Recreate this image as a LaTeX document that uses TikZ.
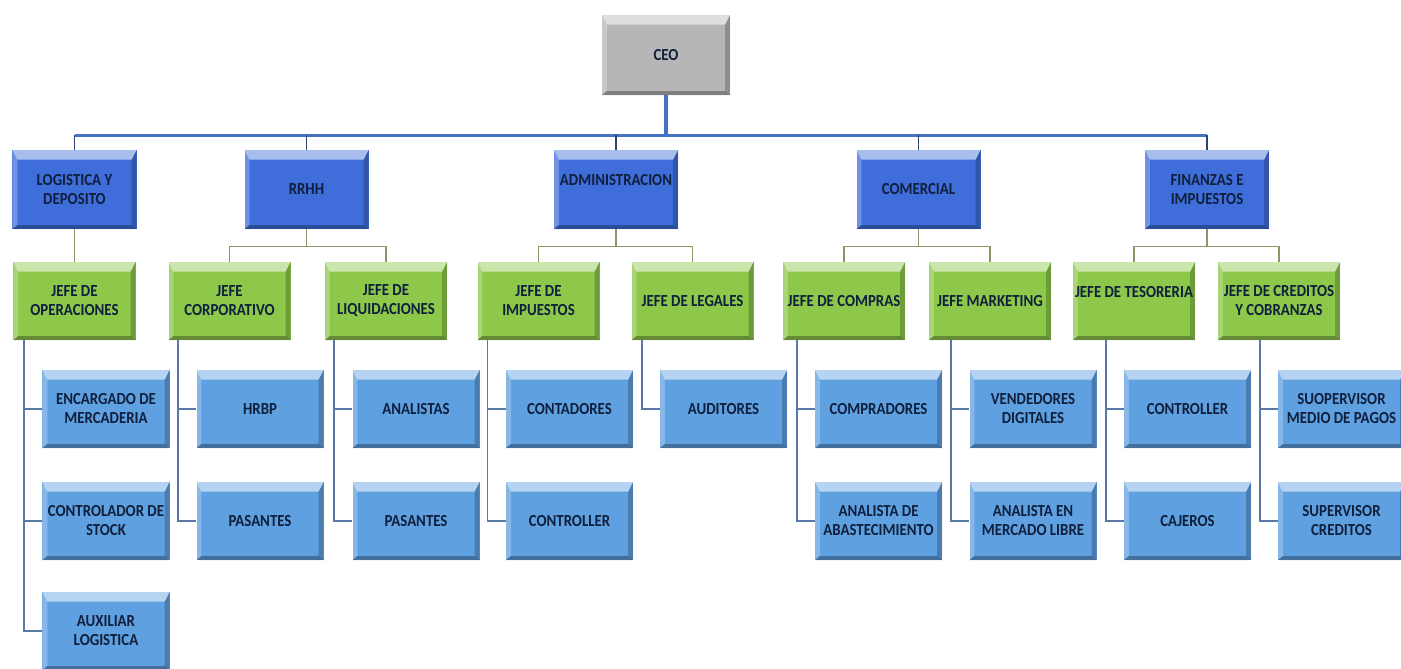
\documentclass[tikz,border=0pt]{standalone}
\usepackage{fontspec}
\setmainfont{Carlito}[FakeStretch=0.88]
\usepackage{tikz}
\definecolor{ceogray}{HTML}{B6B6B6}
\definecolor{areablue}{HTML}{3F6EDB}
\definecolor{jefegreen}{HTML}{8DC84A}
\definecolor{staffblue}{HTML}{5FA0E0}
\definecolor{txtnavy}{HTML}{0F1F3C}
\definecolor{buscol}{HTML}{4472C4}
\definecolor{brkcol}{HTML}{8A9868}
\definecolor{spinecol}{HTML}{5878A8}
\tikzset{
  bevel/.style={path picture={
    \fill[white,opacity=.55] (path picture bounding box.north west) -- (path picture bounding box.north east) -- ([shift={(-1.2mm,-2.4mm)}]path picture bounding box.north east) -- ([shift={(1.2mm,-2.4mm)}]path picture bounding box.north west) -- cycle;
    \fill[white,opacity=.25] (path picture bounding box.north west) -- ([shift={(1.2mm,-2.4mm)}]path picture bounding box.north west) -- ([shift={(1.2mm,1mm)}]path picture bounding box.south west) -- (path picture bounding box.south west) -- cycle;
    \fill[black,opacity=.22] (path picture bounding box.north east) -- (path picture bounding box.south east) -- ([shift={(-1.2mm,1mm)}]path picture bounding box.south east) -- ([shift={(-1.2mm,-2.4mm)}]path picture bounding box.north east) -- cycle;
    \fill[black,opacity=.3] (path picture bounding box.south west) -- ([shift={(1.2mm,1mm)}]path picture bounding box.south west) -- ([shift={(-1.2mm,1mm)}]path picture bounding box.south east) -- (path picture bounding box.south east) -- cycle;
  }},
  box/.style={rectangle,bevel,text=txtnavy,align=center,inner sep=1pt,font=\bfseries\fontsize{12}{13.5}\selectfont},
  ceobox/.style={box,fill=ceogray,minimum width=32mm,minimum height=20mm},
  areabox/.style={box,fill=areablue,minimum width=31mm,minimum height=19.75mm},
  jefebox/.style={box,fill=jefegreen,minimum width=30.5mm,minimum height=19.5mm},
  staffbox/.style={box,fill=staffblue,minimum width=31.75mm,minimum height=19.5mm},
  busline/.style={draw=buscol,line width=2.2pt},
  dropline/.style={draw=buscol!60!black,line width=.8pt},
  brkline/.style={draw=brkcol,line width=1.1pt},
  spine/.style={draw=spinecol,line width=1.1pt}
}
\begin{document}
\begin{tikzpicture}[x=.25mm,y=-.25mm]
\useasboundingbox (0,0) rectangle (1401,668);
\clip (0,0) rectangle (1401,668);
\fill[white] (0,0) rectangle (1401,668);
\node[ceobox] (ceo) at (666,55) {CEO};
% areas
\node[areabox] (log) at (74.5,189.5) {LOGISTICA Y\\DEPOSITO};
\node[areabox] (rrhh) at (306.5,189.5) {RRHH};
\node[areabox] (adm) at (616,189.5) {ADMINISTRACION\\\mbox{}};
\node[areabox] (com) at (918.5,189.5) {COMERCIAL};
\node[areabox] (fin) at (1207,189.5) {FINANZAS E\\IMPUESTOS};
% jefes
\node[jefebox] (jop) at (74.5,301) {JEFE DE\\OPERACIONES};
\node[jefebox] (jcor) at (229.5,301) {JEFE\\CORPORATIVO};
\node[jefebox] (jliq) at (386,301) {JEFE DE\\LIQUIDACIONES};
\node[jefebox] (jimp) at (538.5,301) {JEFE DE\\IMPUESTOS};
\node[jefebox] (jleg) at (692.5,301) {JEFE DE LEGALES};
\node[jefebox] (jcom) at (844,301) {JEFE DE COMPRAS};
\node[jefebox] (jmkt) at (990,301) {JEFE MARKETING};
\node[jefebox] (jtes) at (1134,301) {JEFE DE TESORERIA\\\mbox{}};
\node[jefebox] (jcre) at (1279,301) {JEFE DE CREDITOS\\Y COBRANZAS};
% staff
\node[staffbox] (enc) at (106,409) {ENCARGADO DE\\MERCADERIA};
\node[staffbox] (stk) at (106,521) {CONTROLADOR DE\\STOCK};
\node[staffbox] (aux) at (106,631) {AUXILIAR\\LOGISTICA};
\node[staffbox] (hrbp) at (260,409) {HRBP};
\node[staffbox] (pas1) at (260,521) {PASANTES};
\node[staffbox] (ana) at (416,409) {ANALISTAS};
\node[staffbox] (pas2) at (416,521) {PASANTES};
\node[staffbox] (cont) at (569.5,409) {CONTADORES};
\node[staffbox] (ctl1) at (569.5,521) {CONTROLLER};
\node[staffbox] (aud) at (723.5,409) {AUDITORES};
\node[staffbox] (cpr) at (878.5,409) {COMPRADORES};
\node[staffbox] (abs) at (878.5,521) {ANALISTA DE\\ABASTECIMIENTO};
\node[staffbox] (vend) at (1033,409) {VENDEDORES\\DIGITALES};
\node[staffbox] (mlib) at (1033,521) {ANALISTA EN\\MERCADO LIBRE};
\node[staffbox] (ctl2) at (1187.5,409) {CONTROLLER};
\node[staffbox] (caj) at (1187.5,521) {CAJEROS};
\node[staffbox] (smp) at (1341.5,409) {SUOPERVISOR\\MEDIO DE PAGOS};
\node[staffbox] (scr) at (1341.5,521) {SUPERVISOR\\CREDITOS};
% connectors
\draw[busline] (ceo.south) -- ++(0,40) coordinate (hub);
\draw[busline] (log.north |- hub) -- (fin.north |- hub);
\foreach \a in {log,rrhh,adm,com,fin} \draw[dropline] (\a.north |- hub) -- (\a.north);
\draw[brkline] (log.south) -- (jop.north);
\foreach \p/\c in {rrhh/jcor,rrhh/jliq,adm/jimp,adm/jleg,com/jcom,com/jmkt,fin/jtes,fin/jcre}
  \draw[brkline] (\p.south) -- ++(0,17) -| (\c.north);
\foreach \j/\s in {jop/enc,jop/stk,jop/aux,jcor/hrbp,jcor/pas1,jliq/ana,jliq/pas2,jimp/cont,jimp/ctl1,jleg/aud,jcom/cpr,jcom/abs,jmkt/vend,jmkt/mlib,jtes/ctl2,jtes/caj,jcre/smp,jcre/scr}
  \draw[spine] ([xshift=-4.5mm]\s.west |- \j.south) |- (\s.west);
\end{tikzpicture}
\end{document}
